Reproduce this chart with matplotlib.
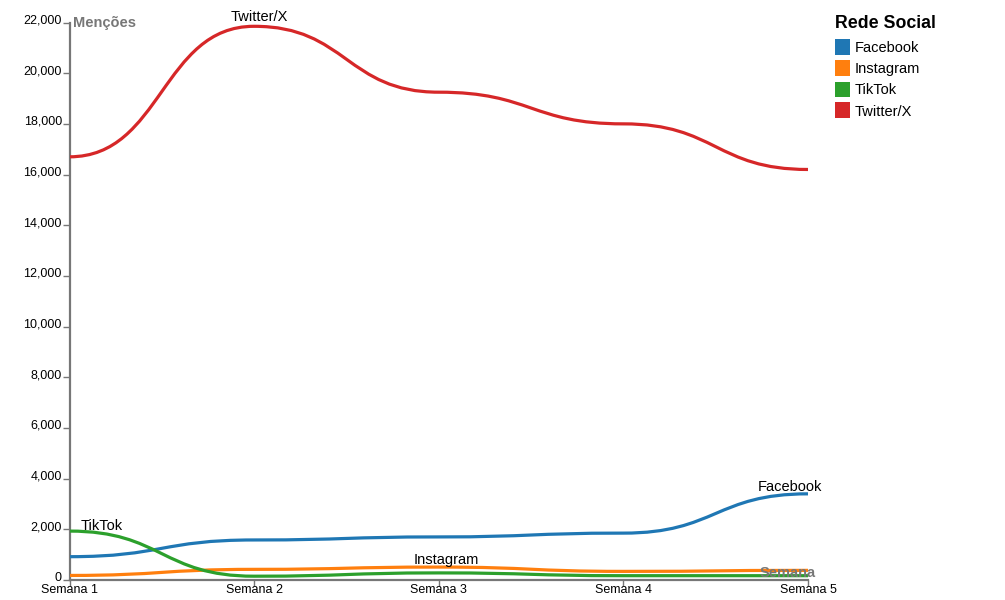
import numpy as np
import matplotlib.pyplot as plt
from matplotlib.path import Path
from matplotlib.patches import PathPatch, Rectangle
from matplotlib.transforms import ScaledTranslation

plt.rcParams['font.family'] = ['Liberation Sans', 'DejaVu Sans']

# ---------- data ----------
weeks = ["Semana 1", "Semana 2", "Semana 3", "Semana 4", "Semana 5"]
networks = ["Facebook", "Instagram", "TikTok", "Twitter/X"]
colors = ["#1f77b4", "#ff7f0e", "#2ca02c", "#d62728"]

facebook = [920, 1580, 1700, 1850, 3400]
instagram = [180, 420, 510, 340, 380]
tiktok = [1930, 150, 280, 170, 170]
twitter = [16700, 21850, 19250, 18000, 16200]
series = [facebook, instagram, tiktok, twitter]

yticks = list(range(0, 22001, 2000))


def bump_x_path(xs, ys):
    # horizontal-tangent cubic segments (like d3.curveBumpX)
    verts = [(xs[0], ys[0])]
    codes = [Path.MOVETO]
    for i in range(1, len(xs)):
        xm = (xs[i - 1] + xs[i]) / 2
        verts += [(xm, ys[i - 1]), (xm, ys[i]), (xs[i], ys[i])]
        codes += [Path.CURVE4] * 3
    return Path(verts, codes)


W, H = 1005, 600
fig = plt.figure(figsize=(W / 100, H / 100), dpi=100)
ax = fig.add_axes([69.5 / W, 20 / H, 738.5 / W, 557.5 / H])

x = np.arange(len(weeks))
for vals, c in zip(series, colors):
    patch = PathPatch(bump_x_path(x, vals), facecolor="none", edgecolor=c,
                      lw=2.3, capstyle="butt", zorder=3)
    ax.add_patch(patch)

ax.set_xlim(0, len(weeks) - 1)
ax.set_ylim(0, 22000)

axis_gray = "#777777"
for s in ["top", "right"]:
    ax.spines[s].set_visible(False)
for s in ["left", "bottom"]:
    ax.spines[s].set_color(axis_gray)
    ax.spines[s].set_linewidth(1.6)

ax.set_xticks(x)
ax.set_xticklabels(weeks, fontsize=9)
ax.set_yticks(yticks)
ax.set_yticklabels([f"{v:,}" for v in yticks], fontsize=9)
ax.tick_params(axis="x", length=4.5, width=1, color=axis_gray, pad=-1.8)
ax.tick_params(axis="y", length=5, width=1, color=axis_gray, pad=0.5)
up = ScaledTranslation(0, 2 / 100, fig.dpi_scale_trans)
for lab in ax.get_yticklabels():
    lab.set_va("center")
    lab.set_transform(lab.get_transform() + up)

# axis titles
ax.text(0.005, 1.0, "Menções", transform=ax.transAxes, fontsize=10.5,
        fontweight="bold", color="#777777", ha="left", va="center")
ax.text(1.01, 0.005, "Semana", transform=ax.transAxes, fontsize=10.5,
        fontweight="bold", color="#777777", ha="right", va="baseline")

# series labels
ax.text(1.03, 22050, "Twitter/X", fontsize=10.5, ha="center", va="baseline")
ax.text(0.175, 1990, "TikTok", fontsize=10.5, ha="center", va="baseline")
ax.text(2.04, 640, "Instagram", fontsize=10.5, ha="center", va="baseline")
ax.text(3.90, 3500, "Facebook", fontsize=10.5, ha="center", va="baseline")

# legend
fig.text(835 / W, 1 - 23 / H, "Rede Social", fontsize=12.8,
         fontweight="bold", ha="left", va="center")
for i, (name, c) in enumerate(zip(networks, colors)):
    yc = 47 + i * 21
    fig.patches.append(Rectangle((835 / W, 1 - (yc + 7.5) / H), 15 / W, 15 / H,
                                 transform=fig.transFigure, facecolor=c,
                                 edgecolor="none"))
    fig.text(855 / W, 1 - yc / H, name, fontsize=10.5, ha="left",
             va="center_baseline")

fig.savefig("out.png", dpi=100)
